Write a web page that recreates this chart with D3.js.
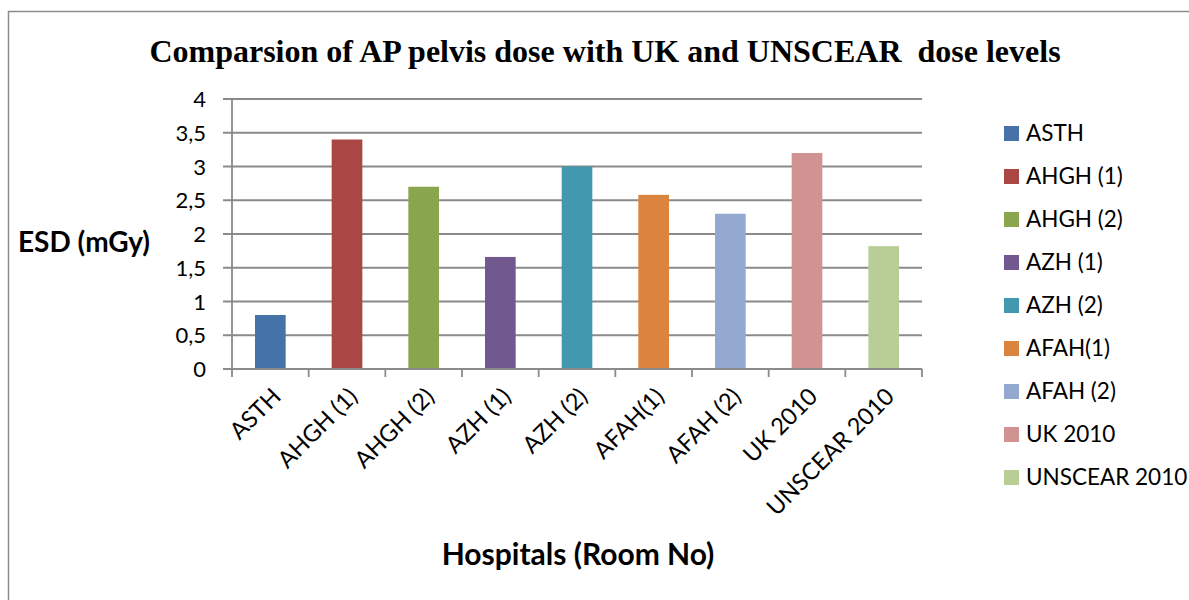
<!DOCTYPE html>
<html>
<head>
<meta charset="utf-8">
<script src="https://cdn.jsdelivr.net/npm/d3@7/dist/d3.min.js"></script>
<style>
  body { margin: 0; background: #fff; }
  svg { display: block; }
</style>
</head>
<body>
<svg id="chart" width="1189" height="600"></svg>
<script>
const categories = ["ASTH", "AHGH (1)", "AHGH (2)", "AZH (1)", "AZH (2)", "AFAH(1)", "AFAH (2)", "UK 2010", "UNSCEAR 2010"];
const values = [0.8, 3.4, 2.7, 1.66, 3.0, 2.58, 2.3, 3.2, 1.82];
const colors = ["#4572A7", "#AA4643", "#89A54E", "#71588F", "#4198AF", "#DB843D", "#93A9CF", "#D19392", "#B9CD96"];
const yTicks = [0, 0.5, 1, 1.5, 2, 2.5, 3, 3.5, 4];

const svg = d3.select("#chart");
const font = "Lato, 'Open Sans', sans-serif";

// outer chart border
svg.append("rect")
    .attr("x", 8.5).attr("y", 11.5)
    .attr("width", 1200).attr("height", 600)
    .attr("fill", "none")
    .attr("stroke", "#8c8c8c")
    .attr("stroke-width", 1.5);

const plotLeft = 232, plotRight = 922, plotTop = 99, plotBottom = 369;

const x = d3.scaleBand().domain(categories).range([plotLeft, plotRight]).paddingInner(0.6).paddingOuter(0.3);
const y = d3.scaleLinear().domain([0, 4]).range([plotBottom, plotTop]);

// gridlines
svg.append("g")
    .selectAll("line")
    .data(yTicks)
    .enter().append("line")
    .attr("x1", plotLeft - 9).attr("x2", plotRight)
    .attr("y1", d => y(d)).attr("y2", d => y(d))
    .attr("stroke", "#8a8a8a")
    .attr("stroke-width", 1.8);

// y axis line
svg.append("line")
    .attr("x1", plotLeft).attr("x2", plotLeft)
    .attr("y1", plotTop).attr("y2", plotBottom)
    .attr("stroke", "#8a8a8a").attr("stroke-width", 1.8);

// bars
svg.append("g")
    .selectAll("rect")
    .data(values)
    .enter().append("rect")
    .attr("x", (d, i) => x(categories[i]))
    .attr("width", x.bandwidth())
    .attr("y", d => y(d))
    .attr("height", d => y(0) - y(d))
    .attr("fill", (d, i) => colors[i]);

// x axis baseline + ticks between categories
const step = (plotRight - plotLeft) / categories.length;
svg.append("line")
    .attr("x1", plotLeft).attr("x2", plotRight)
    .attr("y1", plotBottom).attr("y2", plotBottom)
    .attr("stroke", "#8a8a8a").attr("stroke-width", 1.8);
svg.append("g")
    .selectAll("line")
    .data(d3.range(categories.length + 1))
    .enter().append("line")
    .attr("x1", i => plotLeft + i * step).attr("x2", i => plotLeft + i * step)
    .attr("y1", plotBottom).attr("y2", plotBottom + 8)
    .attr("stroke", "#8a8a8a").attr("stroke-width", 1.8);

// y tick labels
svg.append("g")
    .selectAll("text")
    .data(yTicks)
    .enter().append("text")
    .attr("x", 206)
    .attr("y", d => y(d) + 8)
    .attr("text-anchor", "end")
    .attr("font-family", font)
    .attr("font-size", 22)
    .attr("fill", "#000")
    .text(d => String(d).replace(".", ","));

// x tick labels, rotated
svg.append("g")
    .selectAll("text")
    .data(categories)
    .enter().append("text")
    .attr("transform", d => `translate(${x(d) + x.bandwidth() / 2 + 12},${plotBottom + 29}) rotate(-45)`)
    .attr("text-anchor", "end")
    .attr("font-family", font)
    .attr("font-size", 23.5)
    .attr("fill", "#000")
    .text(d => d);

// title
svg.append("text")
    .attr("x", 605).attr("y", 62)
    .attr("text-anchor", "middle")
    .attr("font-family", "'Liberation Serif', 'Times New Roman', serif")
    .attr("font-weight", "bold")
    .attr("font-size", 32)
    .style("white-space", "pre")
    .text("Comparsion of AP pelvis dose with UK and UNSCEAR  dose levels");

// axis titles
svg.append("text")
    .attr("x", 18).attr("y", 252)
    .attr("font-family", font)
    .attr("font-weight", "bold")
    .attr("font-size", 28)
    .text("ESD (mGy)");

svg.append("text")
    .attr("x", 578).attr("y", 565)
    .attr("text-anchor", "middle")
    .attr("font-family", font)
    .attr("font-weight", "bold")
    .attr("font-size", 30)
    .text("Hospitals (Room No)");

// legend
const legend = svg.append("g")
    .selectAll("g")
    .data(categories)
    .enter().append("g")
    .attr("transform", (d, i) => `translate(1004,${126 + i * 43})`);
legend.append("rect")
    .attr("width", 15).attr("height", 15)
    .attr("fill", (d, i) => colors[i]);
legend.append("text")
    .attr("x", 22).attr("y", 15)
    .attr("font-family", font)
    .attr("font-size", 22.5)
    .text(d => d);
</script>
</body>
</html>
